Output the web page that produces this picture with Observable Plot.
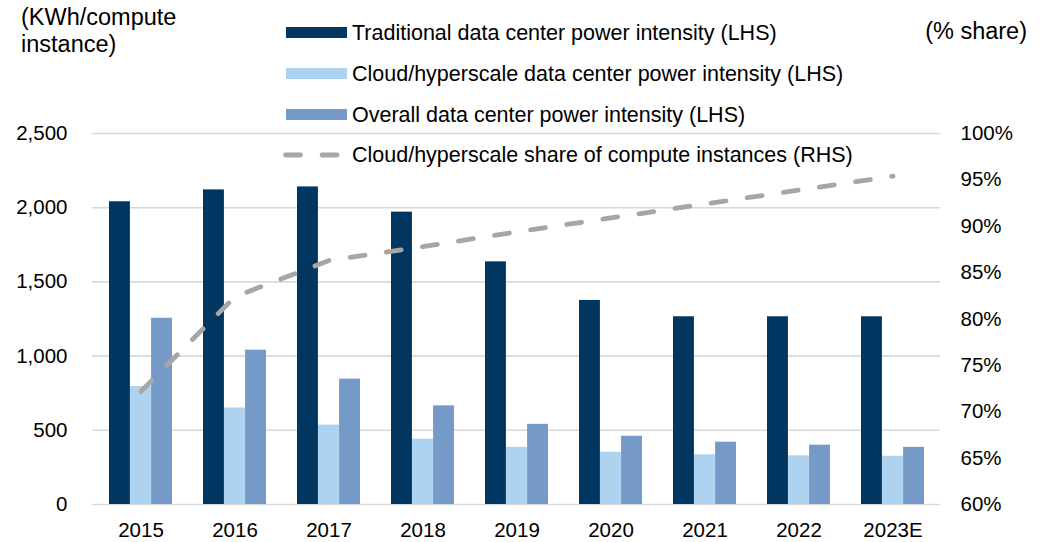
<!DOCTYPE html>
<html>
<head>
<meta charset="utf-8">
<script src="https://cdn.jsdelivr.net/npm/d3@7"></script>
<script src="https://cdn.jsdelivr.net/npm/@observablehq/plot@0.6"></script>
<style>
  html, body { margin: 0; padding: 0; background: #fff; }
  #wrap { position: relative; width: 1042px; height: 542px; font-family: "Liberation Sans", Arial, sans-serif; color: #000; overflow: hidden; }
  #chart { position: absolute; left: 0; top: 0; }
  .ttl { position: absolute; font-size: 23.5px; line-height: 27px; white-space: nowrap; }
  .lg-row { position: absolute; left: 0; height: 0; }
  .lg-sw { position: absolute; }
  .lg-tx { position: absolute; font-size: 21.5px; line-height: 24px; transform: translateY(-50%); white-space: nowrap; }
</style>
</head>
<body>
<div id="wrap">
  <div id="chart"></div>
  <div class="ttl" style="left:21px;top:4px;">(KWh/compute<br>instance)</div>
  <div class="ttl" style="right:15px;top:18px;">(% share)</div>
  <div id="legend"></div>
</div>
<script>
// ---- data ----
const years = ["2015", "2016", "2017", "2018", "2019", "2020", "2021", "2022", "2023E"];
const traditional = [2040, 2120, 2140, 1970, 1635, 1375, 1265, 1265, 1265];
const cloud = [795, 650, 535, 440, 385, 352, 335, 328, 325];
const overall = [1255, 1040, 845, 665, 540, 460, 420, 400, 385];
const cloudShare = [72.2, 82.4, 86.3, 87.8, 89.4, 90.9, 92.4, 93.9, 95.4];
const seriesNames = [
  "Traditional data center power intensity (LHS)",
  "Cloud/hyperscale data center power intensity (LHS)",
  "Overall data center power intensity (LHS)",
  "Cloud/hyperscale share of compute instances (RHS)"
];
const seriesColors = ["#00365F", "#ADD3F0", "#759AC7", "#A6A6A6"];
const leftTicks = [0, 500, 1000, 1500, 2000, 2500];
const rightTicks = [60, 65, 70, 75, 80, 85, 90, 95, 100];

// ---- layout ----
const W = 1042, H = 542;
const mL = 92, mR = 102, mT = 133, mB = 38;
const pInner = 0.33, pOuter = 0.165;
const leftDomain = [0, 2500];
const rightDomain = [60, 100];
const toY = s => (s - rightDomain[0]) / (rightDomain[1] - rightDomain[0]) * (leftDomain[1] - leftDomain[0]) + leftDomain[0];
const fromY = v => (v - leftDomain[0]) / (leftDomain[1] - leftDomain[0]) * (rightDomain[1] - rightDomain[0]) + rightDomain[0];

const step = (W - mL - mR) / (years.length - pInner + 2 * pOuter);
const bw = step * (1 - pInner);
const sub = bw / 3;

const rows = years.map((year, i) => ({
  year,
  traditional: traditional[i],
  cloud: cloud[i],
  overall: overall[i],
  share: toY(cloudShare[i])
}));

const dash = "15,21.5";
const lineW = 4.8;

const chart = Plot.plot({
  width: W,
  height: H,
  marginTop: mT,
  marginBottom: mB,
  marginLeft: mL,
  marginRight: mR,
  style: { fontFamily: "'Liberation Sans', Arial, sans-serif", fontSize: "20.5px", color: "#000", background: "transparent", overflow: "visible" },
  x: { domain: years, paddingInner: pInner, paddingOuter: pOuter, label: null },
  y: { domain: leftDomain, label: null },
  marks: [
    Plot.gridY(leftTicks, { stroke: "#D9D9D9", strokeOpacity: 1, strokeWidth: 1.6 }),
    Plot.barY(rows, { x: "year", y: "traditional", fill: seriesColors[0], insetLeft: 0, insetRight: 2 * sub }),
    Plot.barY(rows, { x: "year", y: "cloud", fill: seriesColors[1], insetLeft: sub, insetRight: sub }),
    Plot.barY(rows, { x: "year", y: "overall", fill: seriesColors[2], insetLeft: 2 * sub, insetRight: 0 }),
    Plot.line(rows, { x: "year", y: "share", stroke: seriesColors[3], strokeWidth: lineW, strokeDasharray: dash, strokeLinecap: "round", strokeLinejoin: "round" }),
    Plot.axisY(leftTicks, { anchor: "left", tickSize: 0, tickPadding: 25, tickFormat: d3.format(","), label: null }),
    Plot.axisY(rightTicks.map(toY), { anchor: "right", tickSize: 0, tickPadding: 20, tickFormat: d => Math.round(fromY(d)) + "%", label: null }),
    Plot.axisX(years, { anchor: "bottom", tickSize: 0, tickPadding: 18, label: null })
  ]
});
document.getElementById("chart").appendChild(chart);

// ---- legend ----
const legend = document.getElementById("legend");
const rowY = [32.7, 73.7, 114.7, 155];
const swX = 286, swW = 61, swH = 10.7, txX = 352;
seriesNames.forEach((name, i) => {
  const row = document.createElement("div");
  row.className = "lg-row";
  row.style.top = rowY[i] + "px";
  if (i < 3) {
    const sw = document.createElement("div");
    sw.className = "lg-sw";
    sw.style.left = swX + "px";
    sw.style.top = (-swH / 2) + "px";
    sw.style.width = swW + "px";
    sw.style.height = swH + "px";
    sw.style.background = seriesColors[i];
    row.appendChild(sw);
  } else {
    const ns = "http://www.w3.org/2000/svg";
    const svg = document.createElementNS(ns, "svg");
    svg.setAttribute("width", swW + 4);
    svg.setAttribute("height", 12);
    svg.style.position = "absolute";
    svg.style.left = (swX - 4) + "px";
    svg.style.top = "-6px";
    const ln = document.createElementNS(ns, "line");
    ln.setAttribute("x1", 3.5);
    ln.setAttribute("x2", swW + 2);
    ln.setAttribute("y1", 6);
    ln.setAttribute("y2", 6);
    ln.setAttribute("stroke", seriesColors[3]);
    ln.setAttribute("stroke-width", lineW);
    ln.setAttribute("stroke-linecap", "round");
    ln.setAttribute("stroke-dasharray", dash);
    svg.appendChild(ln);
    row.appendChild(svg);
  }
  const tx = document.createElement("div");
  tx.className = "lg-tx";
  tx.style.left = txX + "px";
  tx.textContent = name;
  row.appendChild(tx);
  legend.appendChild(row);
});
</script>
</body>
</html>
